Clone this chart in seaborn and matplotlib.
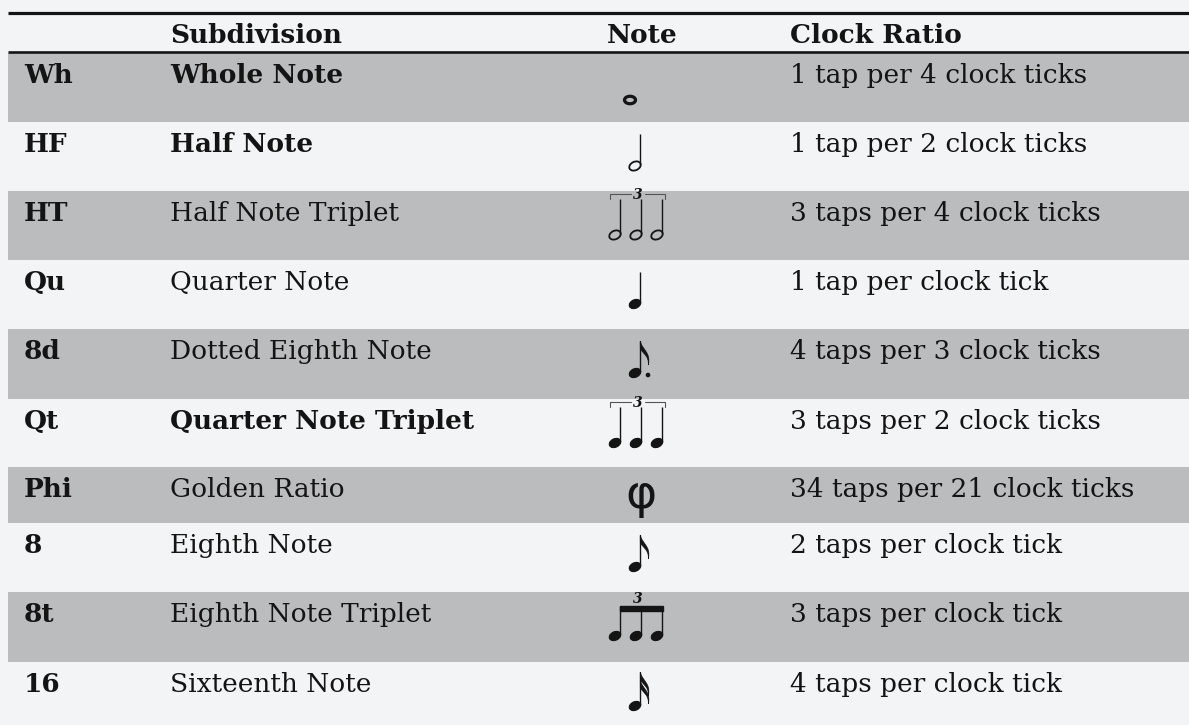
import seaborn as sns
import matplotlib.pyplot as plt
from matplotlib.patches import Ellipse, Rectangle, PathPatch, Circle
from matplotlib.path import Path

# table content
headers = ["", "Subdivision", "Note", "Clock Ratio"]
codes = ["Wh", "HF", "HT", "Qu", "8d", "Qt", "Phi", "8", "8t", "16"]
names = ["Whole Note", "Half Note", "Half Note Triplet", "Quarter Note",
         "Dotted Eighth Note", "Quarter Note Triplet", "Golden Ratio",
         "Eighth Note", "Eighth Note Triplet", "Sixteenth Note"]
name_bold = [True, True, False, False, False, True, False, False, False, False]
notes = ["whole", "half", "half3", "quarter", "dotted8", "quarter3", "phi",
         "eighth", "eighth3", "sixteenth"]
ratios = ["1 tap per 4 clock ticks", "1 tap per 2 clock ticks",
          "3 taps per 4 clock ticks", "1 tap per clock tick",
          "4 taps per 3 clock ticks", "3 taps per 2 clock ticks",
          "34 taps per 21 clock ticks", "2 taps per clock tick",
          "3 taps per clock tick", "4 taps per clock tick"]

# layout (pixels)
row_edges = [53, 122, 191, 260, 329, 399, 467, 523, 592, 662, 731]
col_x = [24, 170, 607, 790]
note_x = 635

bg = "#f3f4f6"
band = "#bbbcbe"
ink = "#141414"

sns.set_theme(style="white", rc={"figure.facecolor": bg, "axes.facecolor": bg})
plt.rcParams['font.family'] = ['DejaVu Serif']

fig = plt.figure(figsize=(11.89, 7.25), dpi=100)
ax = fig.add_axes([0, 0, 1, 1])
ax.set_xlim(0, 1189)
ax.set_ylim(725, 0)
ax.axis('off')

FS = 19
BOLD = dict(fontsize=FS, fontweight='bold')
REG = dict(fontsize=FS)


def head(x, y, filled=True):
    ax.add_patch(Ellipse((x, y), 12, 8.5, angle=-25,
                         facecolor=ink if filled else 'none',
                         edgecolor=ink, lw=1.3 if not filled else 0.8, zorder=5))


def stem(x, y, length=32):
    sx = x + 5.3
    ax.plot([sx, sx], [y - 1.5, y - length], color=ink, lw=1.0,
            solid_capstyle='butt', zorder=5)
    return sx, y - length


def flag(sx, top):
    verts = [(sx, top), (sx + 1, top + 8), (sx + 11, top + 11), (sx + 8, top + 24),
             (sx + 9, top + 14), (sx + 1, top + 12), (sx, top + 7), (sx, top)]
    codes_ = [Path.MOVETO, Path.CURVE4, Path.CURVE4, Path.CURVE4,
              Path.CURVE4, Path.CURVE4, Path.CURVE4, Path.CLOSEPOLY]
    ax.add_patch(PathPatch(Path(verts, codes_), facecolor=ink, edgecolor=ink,
                           lw=0.5, zorder=5))


def bracket(x0, x1, y, mid):
    ax.plot([x0, x0, mid - 7], [y + 5, y, y], color="#555555", lw=0.8, zorder=5)
    ax.plot([mid + 7, x1, x1], [y, y, y + 5], color="#555555", lw=0.8, zorder=5)
    ax.text(mid, y + 1, "3", fontsize=10, fontweight='bold', style='italic',
            ha='center', va='center', color=ink, zorder=6)


def draw_note(kind, top, bottom):
    y = top + 44
    xs = [615, 636, 657]
    if kind == "whole":
        ax.add_patch(Ellipse((630, 100), 11, 7.5, facecolor='none', edgecolor=ink,
                             lw=2.3, zorder=5))
    elif kind in ("half", "quarter"):
        head(note_x, y, kind == "quarter")
        stem(note_x, y)
    elif kind in ("half3", "quarter3"):
        for hx in xs:
            head(hx, y, kind == "quarter3")
            stem(hx, y, 36)
        bracket(610, 665, y - 41, 638)
    elif kind in ("eighth", "dotted8"):
        head(note_x, y)
        sx, t = stem(note_x, y)
        flag(sx, t)
        if kind == "dotted8":
            ax.add_patch(Circle((note_x + 13, y + 2), 1.6, color=ink, zorder=5))
    elif kind == "sixteenth":
        head(note_x, y)
        sx, t = stem(note_x, y, 34)
        flag(sx, t)
        flag(sx, t + 8)
    elif kind == "eighth3":
        tops = []
        for hx in xs:
            head(hx, y)
            tops.append(stem(hx, y, 30))
        bt = tops[0][1]
        ax.add_patch(Rectangle((tops[0][0] - 0.5, bt), tops[-1][0] - tops[0][0] + 1,
                               4.5, color=ink, zorder=5))
        ax.text(638, bt - 7, "3", fontsize=10, fontweight='bold', style='italic',
                ha='center', va='center', color=ink, zorder=6)
    elif kind == "phi":
        ax.text(641, (top + bottom) / 2 + 1, "\u03c6", fontsize=34,
                family=['DejaVu Sans'], ha='center', va='center', color=ink, zorder=5)


# banded rows
for i in range(len(codes)):
    if i % 2 == 0:
        ax.axhspan(row_edges[i], row_edges[i + 1], xmin=8 / 1189, xmax=1,
                   color=band, lw=0, zorder=1)

# rules
ax.plot([8, 1189], [12.5, 12.5], color=ink, lw=2.3, solid_capstyle='butt', zorder=3)
ax.plot([8, 1189], [52, 52], color=ink, lw=1.9, solid_capstyle='butt', zorder=3)

# header
for x, h in zip(col_x, headers):
    ax.text(x, 43, h, color=ink, ha='left', va='baseline', zorder=4, **BOLD)

# body
for i in range(len(codes)):
    top, bottom = row_edges[i], row_edges[i + 1]
    yb = top + 30
    ax.text(col_x[0], yb, codes[i], color=ink, va='baseline', zorder=4, **BOLD)
    ax.text(col_x[1], yb, names[i], color=ink, va='baseline', zorder=4,
            **(BOLD if name_bold[i] else REG))
    ax.text(col_x[3], yb, ratios[i], color=ink, va='baseline', zorder=4, **REG)
    draw_note(notes[i], top, bottom)

fig.savefig("out.png", dpi=100, facecolor=bg)
